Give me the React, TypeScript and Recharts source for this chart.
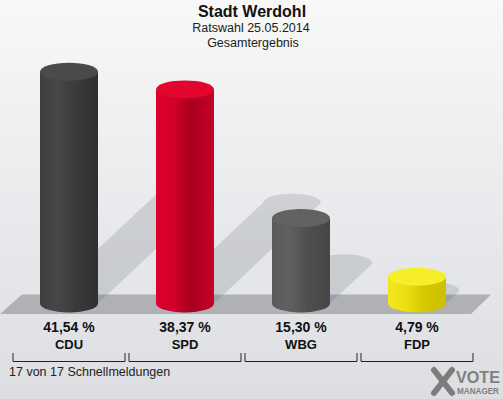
import React from 'react';
import { BarChart, Bar, XAxis, YAxis, ReferenceArea } from 'recharts';

const parties = ['CDU', 'SPD', 'WBG', 'FDP'];
const shares = [41.54, 38.37, 15.3, 4.79];
const shareLabels = ['41,54 %', '38,37 %', '15,30 %', '4,79 %'];
const title = 'Stadt Werdohl';
const subtitle = 'Ratswahl 25.05.2014';
const subtitle2 = 'Gesamtergebnis';
const footnote = '17 von 17 Schnellmeldungen';

const bodyStops = [
  ['#3f3f3f', '#474747', '#3b3b3b', '#2f2f2f'],
  ['#dc002b', '#d2002a', '#a8001e', '#c6002a'],
  ['#5a5a5a', '#606060', '#4f4f4f', '#464646'],
  ['#f2e71e', '#ece012', '#d6c800', '#cdbf00'],
];
const topColors = ['#4a4a4a', '#e2062f', '#626262', '#f7ee2a'];

const data = parties.map((p, i) => ({ party: p, share: shares[i] }));

const FONT = '"Liberation Sans", Arial, Helvetica, sans-serif';

const Cylinder = (props: any) => {
  const { x, y, width, height, index } = props;
  const rx = width / 2;
  const ry = 9;
  const cx = x + rx;
  const yTop = y + ry;
  const yb = y + height + ry;
  const h = yb - yTop;
  const dx = 0.5 * h;
  const dy = 0.47 * h;
  const shadow = `M${cx - rx},${yb} L${cx - rx + dx},${yb - dy} A${rx},${ry} 0 0 1 ${cx + rx + dx},${yb - dy} L${cx + rx},${yb} A${rx},${ry} 0 0 1 ${cx - rx},${yb} Z`;
  const body = `M${x},${yTop} L${x},${yb} A${rx},${ry} 0 0 0 ${x + width},${yb} L${x + width},${yTop} Z`;
  const gid = `cyl-${index}`;
  const s = bodyStops[index];
  return (
    <g>
      <defs>
        <linearGradient id={gid} x1="0" y1="0" x2="1" y2="0">
          <stop offset="0%" stopColor={s[0]} />
          <stop offset="30%" stopColor={s[1]} />
          <stop offset="60%" stopColor={s[2]} />
          <stop offset="100%" stopColor={s[3]} />
        </linearGradient>
      </defs>
      <path d={shadow} fill="rgba(95,100,110,0.2)" />
      <path d={body} fill={`url(#${gid})`} />
      <ellipse cx={cx} cy={yTop} rx={rx} ry={ry} fill={topColors[index]} />
    </g>
  );
};

const Floor = (props: any) => {
  const { x, y, width, height } = props;
  const top = y;
  const bottom = y + height;
  const pts = `${x - 11},${bottom} ${x + 11},${top} ${x + width + 16},${top} ${x + width - 4},${bottom}`;
  return <polygon points={pts} fill="#afb1b5" />;
};

const PartyTick = (props: any) => {
  const { x, y, payload } = props;
  const i = parties.indexOf(payload.value);
  return (
    <g>
      <text x={x} y={y + 18} textAnchor="middle" fontFamily={FONT} fontWeight="bold" fontSize={14} fill="#111">
        {shareLabels[i]}
      </text>
      <text x={x} y={y + 34.5} textAnchor="middle" fontFamily={FONT} fontWeight="bold" fontSize={13} fill="#111">
        {payload.value}
      </text>
      <path d={`M${x - 56},${y + 39} V${y + 47.5} H${x + 56} V${y + 39}`} stroke="#222" strokeWidth={1} fill="none" />
    </g>
  );
};

export default function App() {
  return (
    <div
      style={{
        position: 'absolute',
        left: 0,
        top: 0,
        width: 503,
        height: 399,
        background: 'linear-gradient(to bottom, #f8f8f8 0%, #ebecee 45%, #dcdee2 100%)',
        overflow: 'hidden',
      }}
    >
      <svg width={503} height={399} style={{ position: 'absolute', left: 0, top: 0 }}>
        <text x={252} y={17} textAnchor="middle" fontFamily={FONT} fontWeight="bold" fontSize={16} fill="#111">{title}</text>
        <text x={251} y={32} textAnchor="middle" fontFamily={FONT} fontSize={12.5} fill="#222">{subtitle}</text>
        <text x={253} y={47} textAnchor="middle" fontFamily={FONT} fontSize={12.5} fill="#222">{subtitle2}</text>
        <text x={9} y={376} fontFamily={FONT} fontSize={12.5} fill="#222">{footnote}</text>
        <g>
          <path d="M434,370 L452,393 M452,370 L434,393" stroke="#7d7d7d" strokeWidth={6} strokeLinecap="round" />
          <text x={456} y={383} textLength={44} lengthAdjust="spacingAndGlyphs" fontFamily={FONT} fontWeight="bold" fontSize={16} fill="#808080">VOTE</text>
          <text x={457} y={394} textLength={42} lengthAdjust="spacingAndGlyphs" fontFamily={FONT} fontWeight="bold" fontSize={8.5} fill="#808080">MANAGER</text>
        </g>
      </svg>
      <div style={{ position: 'absolute', left: 0, top: 0 }}>
        <BarChart width={503} height={399} data={data} margin={{ top: 43.4, right: 28, bottom: 25, left: 11 }}>
          <YAxis hide domain={[-3.5, 45]} type="number" allowDataOverflow />
          <XAxis
            dataKey="party"
            height={60}
            axisLine={false}
            tickLine={false}
            tickSize={0}
            tickMargin={0}
            interval={0}
            tick={<PartyTick />}
          />
          <ReferenceArea y1={-3.5} y2={0} shape={<Floor />} ifOverflow="visible" />
          <Bar dataKey="share" barSize={58} isAnimationActive={false} shape={<Cylinder />} />
        </BarChart>
      </div>
    </div>
  );
}
